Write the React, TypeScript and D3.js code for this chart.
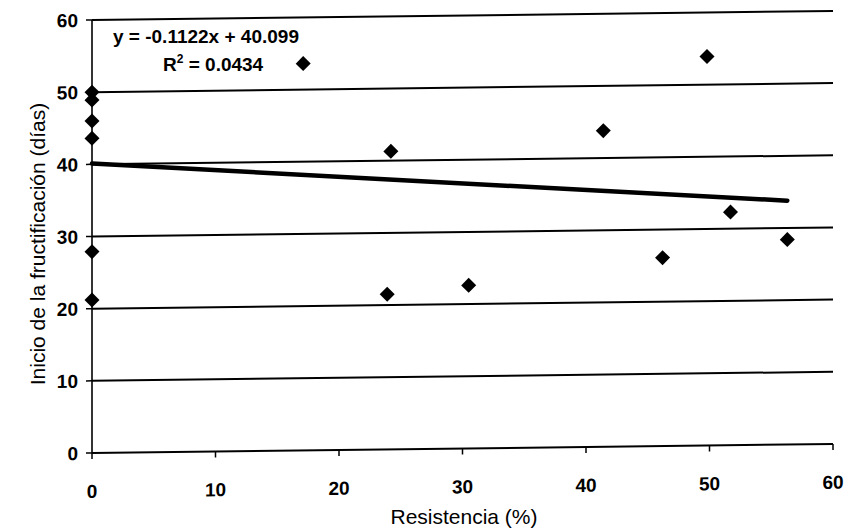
import React, { useEffect, useRef } from 'react';
import * as d3 from 'd3';

// Resistencia (%) vs inicio de la fructificación (días)
const resistencia = [0, 0, 0, 0, 0, 0, 17.1, 23.9, 24.2, 30.5, 41.4, 46.2, 49.8, 51.7, 56.3];
const inicioDias = [50, 48.9, 46, 43.6, 27.9, 21.2, 53.6, 21.5, 41.3, 22.6, 43.8, 26.1, 53.9, 32.3, 28.4];

const xTicks = [0, 10, 20, 30, 40, 50, 60];
const yTicks = [0, 10, 20, 30, 40, 50, 60];

const slope = -0.1122;
const intercept = 40.099;
const equationLabel = 'y = -0.1122x + 40.099';
const r2Value = '0.0434';

const W = 849;
const H = 529;
const FONT = 'Arial, "Liberation Sans", Helvetica, sans-serif';

const App: React.FC = () => {
  const svgRef = useRef<SVGSVGElement>(null);

  useEffect(() => {
    if (!svgRef.current) return;
    const svg = d3.select(svgRef.current);
    svg.selectAll('*').remove();

    const left = 92, right = 833, top = 20, bottom = 453;

    const x = d3.scaleLinear().domain([0, 60]).range([left, right]);
    const y = d3.scaleLinear().domain([0, 60]).range([bottom, top]);

    // the scanned original is slightly skewed: gridlines rise to the right
    const g = svg.append('g')
      .attr('transform', `translate(${left},${bottom}) skewY(-0.7) translate(${-left},${-bottom})`);

    // horizontal gridlines
    g.selectAll('line.grid')
      .data(yTicks)
      .enter()
      .append('line')
      .attr('class', 'grid')
      .attr('x1', left)
      .attr('x2', right)
      .attr('y1', d => y(d))
      .attr('y2', d => y(d))
      .attr('stroke', '#000')
      .attr('stroke-width', 2);

    // y axis line
    g.append('line')
      .attr('x1', left).attr('x2', left)
      .attr('y1', top).attr('y2', bottom)
      .attr('stroke', '#000')
      .attr('stroke-width', 1.6);

    // y ticks + labels
    g.selectAll('line.ytick')
      .data(yTicks)
      .enter()
      .append('line')
      .attr('class', 'ytick')
      .attr('x1', left - 6).attr('x2', left)
      .attr('y1', d => y(d)).attr('y2', d => y(d))
      .attr('stroke', '#000').attr('stroke-width', 1.5);

    g.selectAll('text.ylab')
      .data(yTicks)
      .enter()
      .append('text')
      .attr('class', 'ylab')
      .attr('x', left - 14)
      .attr('y', d => y(d))
      .attr('dy', '0.36em')
      .attr('text-anchor', 'end')
      .attr('font-family', FONT)
      .attr('font-size', 19)
      .attr('font-weight', 'bold')
      .text(d => d);

    // x ticks + labels
    g.selectAll('line.xtick')
      .data(xTicks)
      .enter()
      .append('line')
      .attr('class', 'xtick')
      .attr('x1', d => x(d)).attr('x2', d => x(d))
      .attr('y1', bottom).attr('y2', bottom + 6)
      .attr('stroke', '#000').attr('stroke-width', 1.5);

    g.selectAll('text.xlab')
      .data(xTicks)
      .enter()
      .append('text')
      .attr('class', 'xlab')
      .attr('x', d => x(d))
      .attr('y', bottom + 38)
      .attr('dy', '0.36em')
      .attr('text-anchor', 'middle')
      .attr('font-family', FONT)
      .attr('font-size', 19)
      .attr('font-weight', 'bold')
      .text(d => d);

    // axis titles
    svg.append('text')
      .attr('x', 464)
      .attr('y', 524)
      .attr('text-anchor', 'middle')
      .attr('font-family', FONT)
      .attr('font-size', 21)
      .text('Resistencia (%)');

    svg.append('text')
      .attr('transform', `translate(45, 244) rotate(-90)`)
      .attr('text-anchor', 'middle')
      .attr('font-family', FONT)
      .attr('font-size', 21)
      .text('Inicio de la fructificación (días)');

    // linear trend
    const xMax = d3.max(resistencia) as number;
    g.append('line')
      .attr('x1', x(0))
      .attr('y1', y(intercept))
      .attr('x2', x(xMax))
      .attr('y2', y(intercept + slope * xMax))
      .attr('stroke', '#000')
      .attr('stroke-width', 4.5)
      .attr('stroke-linecap', 'round');

    // diamond markers
    const pts = resistencia.map((r, i) => ({ r, d: inicioDias[i] }));
    const s = 7.5;
    g.selectAll('path.pt')
      .data(pts)
      .enter()
      .append('path')
      .attr('class', 'pt')
      .attr('d', p => {
        const cx = x(p.r), cy = y(p.d);
        return `M${cx},${cy - s}L${cx + s},${cy}L${cx},${cy + s}L${cx - s},${cy}Z`;
      })
      .attr('fill', '#000');

    // equation label
    svg.append('text')
      .attr('x', 113)
      .attr('y', 43)
      .attr('font-family', FONT)
      .attr('font-size', 19)
      .attr('font-weight', 'bold')
      .text(equationLabel);

    const r2 = svg.append('text')
      .attr('x', 163)
      .attr('y', 71)
      .attr('font-family', FONT)
      .attr('font-size', 19)
      .attr('font-weight', 'bold');
    r2.append('tspan').text('R');
    r2.append('tspan').attr('dy', -8).attr('font-size', 12).text('2');
    r2.append('tspan').attr('dy', 8).text(` = ${r2Value}`);
  }, []);

  return (
    <div style={{ position: 'fixed', left: 0, top: 0, width: W, height: H, background: '#fff' }}>
      <svg ref={svgRef} width={W} height={H} style={{ display: 'block' }} />
    </div>
  );
};

export default App;
